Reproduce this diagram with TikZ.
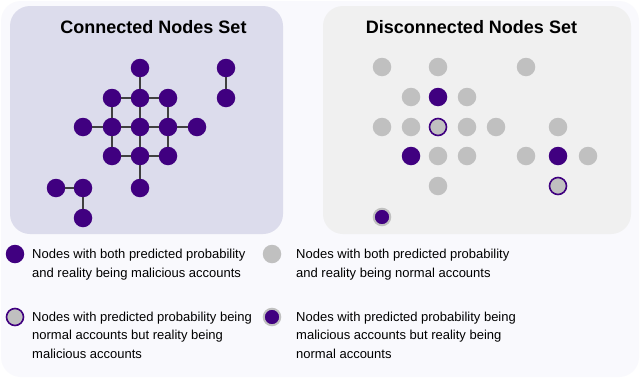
\documentclass[tikz,border=0pt]{standalone}
\usepackage{fontspec}
\setmainfont{Liberation Sans}
\definecolor{purp}{RGB}{64,0,128}
\definecolor{nodegray}{RGB}{192,192,192}
\definecolor{setbg}{RGB}{220,220,236}
\definecolor{unsetbg}{RGB}{240,240,240}
\definecolor{outerbg}{RGB}{249,249,253}
\tikzset{mal/.style={circle,fill=purp,minimum size=18.5pt,inner sep=0pt},
  nor/.style={circle,fill=nodegray,minimum size=18.5pt,inner sep=0pt},
  norring/.style={circle,fill=nodegray,draw=purp,line width=1.6pt,minimum size=17pt,inner sep=0pt},
  malring/.style={circle,fill=purp,draw=nodegray,line width=2pt,minimum size=16.5pt,inner sep=0pt},
  link/.style={draw=black!75,line width=1.3pt},
  settitle/.style={font=\fontsize{18}{21}\selectfont\bfseries,anchor=base},
  legtext/.style={font=\fontsize{13}{18.7}\selectfont,align=left,anchor=base west,inner sep=0pt}}

\begin{document}
\begin{tikzpicture}[x=1pt,y=-1pt]
  \useasboundingbox[fill=white] (0,0) rectangle (640,378);
  \fill[outerbg,rounded corners=20pt] (1,1) rectangle (639,377);
  \fill[setbg,rounded corners=20pt] (10,6) rectangle (283,234);
  \fill[unsetbg,rounded corners=20pt] (323,6) rectangle (631,234);
  \node[settitle] (ctitle) at (153.5,33.5) {Connected Nodes Set};
  \node[settitle] (dtitle) at (471.5,33.5) {Disconnected Nodes Set};

  % connected set
  \node[mal] (c1) at (140,68) {};
  \node[mal] (c2) at (112,98) {};
  \node[mal] (c3) at (140,98) {};
  \node[mal] (c4) at (168,98) {};
  \node[mal] (c5) at (83,127) {};
  \node[mal] (c6) at (112,127) {};
  \node[mal] (c7) at (140,127) {};
  \node[mal] (c8) at (168,127) {};
  \node[mal] (c9) at (197,127) {};
  \node[mal] (c10) at (112,156) {};
  \node[mal] (c11) at (140,156) {};
  \node[mal] (c12) at (168,156) {};
  \node[mal] (c13) at (140,188) {};
  \node[mal] (p1) at (226,68) {};
  \node[mal] (p2) at (226,98) {};
  \node[mal] (t1) at (56,188) {};
  \node[mal] (t2) at (83,188) {};
  \node[mal] (t3) at (83,218) {};
  \draw[link] (c1) -- (c3);
  \draw[link] (c2) -- (c3) (c3) -- (c4);
  \draw[link] (c2) -- (c6) (c3) -- (c7) (c4) -- (c8);
  \draw[link] (c5) -- (c6) (c6) -- (c7) (c7) -- (c8) (c8) -- (c9);
  \draw[link] (c6) -- (c10) (c7) -- (c11) (c8) -- (c12);
  \draw[link] (c10) -- (c11) (c11) -- (c12);
  \draw[link] (c11) -- (c13);
  \draw[link] (p1) -- (p2);
  \draw[link] (t1) -- (t2) (t2) -- (t3);

  % disconnected set
  \node[nor] (d1) at (382,67) {};
  \node[nor] (d2) at (438,67) {};
  \node[nor] (d3) at (526,67) {};
  \node[nor] (d4) at (411,97) {};
  \node[mal] (d5) at (438,97) {};
  \node[nor] (d6) at (467,97) {};
  \node[nor] (d7) at (382,127) {};
  \node[nor] (d8) at (411,127) {};
  \node[norring] (d9) at (438,127) {};
  \node[nor] (d10) at (467,127) {};
  \node[nor] (d11) at (496,127) {};
  \node[nor] (d12) at (558,127) {};
  \node[mal] (d13) at (411,156) {};
  \node[nor] (d14) at (438,156) {};
  \node[nor] (d15) at (467,156) {};
  \node[nor] (d16) at (526,156) {};
  \node[mal] (d17) at (558,156) {};
  \node[nor] (d18) at (588,156) {};
  \node[nor] (d19) at (438,186) {};
  \node[norring] (d20) at (558,186) {};
  \node[malring] (d21) at (382,217) {};

  % legend
  \node[mal] (lk1) at (15,254) {};
  \node[legtext] (lt1) at (32,277) {Nodes with both predicted probability\\and reality being malicious accounts};
  \node[nor] (lk2) at (272,254) {};
  \node[legtext] (lt2) at (296,277) {Nodes with both predicted probability\\and reality being normal accounts};
  \node[norring] (lk3) at (15,317) {};
  \node[legtext] (lt3) at (32,358.4) {Nodes with predicted probability being\\normal accounts but reality being\\malicious accounts};
  \node[malring] (lk4) at (272,317) {};
  \node[legtext] (lt4) at (296,358.4) {Nodes with predicted probability being\\malicious accounts but reality being\\normal accounts};
\end{tikzpicture}
\end{document}
